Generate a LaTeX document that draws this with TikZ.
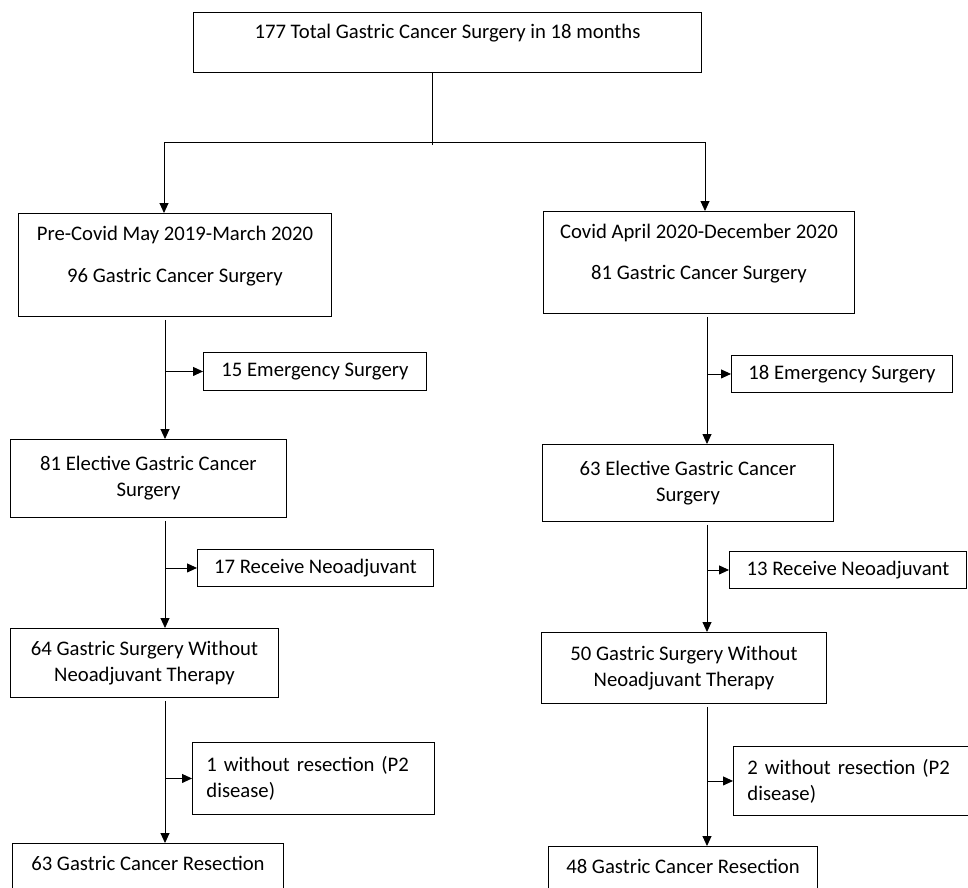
\documentclass[tikz,border=0pt]{standalone}
\usepackage{fontspec}
\setmainfont{Carlito}
\usetikzlibrary{arrows.meta,positioning}
\newcommand{\lowpad}[1]{\rule[-#1]{0pt}{#1}}

\begin{document}
\begin{tikzpicture}[
    x=1pt, y=-1pt,
    every node/.style = {draw, rectangle, align=center, anchor=north west,
                         inner sep=0pt, font=\fontsize{20.7}{26}\selectfont},
    >={Triangle[length=10pt,width=9pt]},
    line width=0.9pt,
  ]
    \clip (0,0) rectangle (968,887);

    \node[minimum width=508pt, minimum height=60pt]
        (total) at (193,12) {177 Total Gastric Cancer Surgery in 18 months\lowpad{21.5pt}};

    \node[minimum width=313pt, minimum height=103pt] (pre) at (18,213)
        {Pre-Covid May 2019-March 2020\\[15.5pt]96 Gastric Cancer Surgery\lowpad{21.5pt}};
    \node[minimum width=311pt, minimum height=102pt] (covid) at (543,211)
        {Covid April 2020-December 2020\\[15.5pt]81 Gastric Cancer Surgery\lowpad{21.5pt}};

    \node[minimum width=223pt, minimum height=38pt] (emerA) at (203,352) {15 Emergency Surgery};
    \node[minimum width=221pt, minimum height=37pt] (emerB) at (731,355) {18 Emergency Surgery};
    \node[minimum width=276pt, minimum height=78pt] (electA) at (10,439) {81 Elective Gastric Cancer\\Surgery};
    \node[minimum width=291pt, minimum height=77pt] (electB) at (542,444) {63 Elective Gastric Cancer\\Surgery};
    \node[minimum width=236pt, minimum height=37pt] (neoA) at (197,549) {17 Receive Neoadjuvant};
    \node[minimum width=237pt, minimum height=37pt] (neoB) at (729,551) {13 Receive Neoadjuvant};
    \node[minimum width=268pt, minimum height=69pt] (withoutA) at (10,628) {64 Gastric Surgery Without\\Neoadjuvant Therapy};
    \node[minimum width=285pt, minimum height=71pt] (withoutB) at (541,632) {50 Gastric Surgery Without\\Neoadjuvant Therapy};
    \node[minimum width=242pt, minimum height=72pt, align=left, text width=214pt]
        (noresA) at (192,742) {1 without resection (P2\\disease)};
    \node[minimum width=260pt, minimum height=69pt, align=left, text width=232pt]
        (noresB) at (733,746) {2 without resection (P2\\disease)};
    \node[minimum width=271pt, minimum height=80pt] (resA) at (12,843) {63 Gastric Cancer Resection\lowpad{39.5pt}};
    \node[minimum width=269pt, minimum height=80pt] (resB) at (548,846) {48 Gastric Cancer Resection\lowpad{39.5pt}};

    % split from the total box
    \coordinate (split) at (432,145);
    \coordinate (forkA) at (164,142);
    \coordinate (forkB) at (705,142);
    \draw (total.south -| split) -- (split);
    \draw (forkA) -- (forkB);
    \draw[->] (forkA) -- (pre.north -| forkA);
    \draw[->] (forkB) -- (covid.north -| forkB);

    % the two columns
    \coordinate (colA) at (165,0);
    \coordinate (colB) at (707,0);
    \foreach \from/\to/\side in {pre/electA/emerA, electA/withoutA/neoA, withoutA/resA/noresA} {
        \draw[->, shorten <=3pt] (\from.south -| colA) -- (\to.north -| colA);
        \draw[->] (colA |- \side.west) -- (\side.west);
    }
    \foreach \from/\to/\side in {covid/electB/emerB, electB/withoutB/neoB, withoutB/resB/noresB} {
        \draw[->, shorten <=3pt] (\from.south -| colB) -- (\to.north -| colB);
        \draw[->] (colB |- \side.west) -- (\side.west);
    }
\end{tikzpicture}
\end{document}
